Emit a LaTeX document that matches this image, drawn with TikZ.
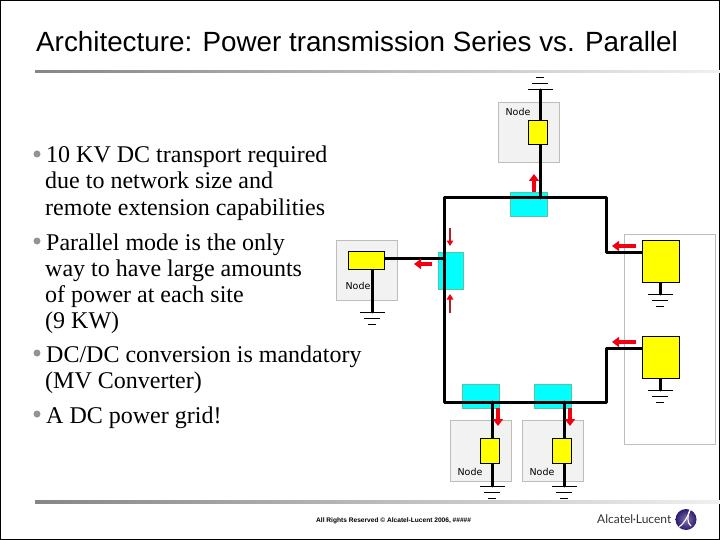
\documentclass[tikz,border=0pt]{standalone}
\usepackage{fontspec}
\usetikzlibrary{arrows.meta}
\setmainfont{Liberation Serif}
\newfontfamily\titlefont{Liberation Sans}
\newfontfamily\labelfont{DejaVu Sans}
\newfontfamily\logofont{Lato}

\definecolor{boxgray}{HTML}{F2F2F2}
\definecolor{boxedge}{HTML}{BEBEB6}
\definecolor{feedcyan}{HTML}{00FFFF}
\definecolor{cyanedge}{HTML}{5CC49C}
\definecolor{convyellow}{HTML}{FFFF00}
\definecolor{flowred}{HTML}{F00010}
\definecolor{thinred}{HTML}{B02028}
\definecolor{logoviolet}{HTML}{2C1A70}

\tikzset{
    sitebox/.style={draw=boxedge,line width=0.8pt,inner sep=0pt},
    feeder/.style={draw=cyanedge,fill=feedcyan,line width=0.8pt,inner sep=0pt},
    conv/.style={draw=black,fill=convyellow,line width=0.9pt,inner sep=0pt},
    wire/.style={black,line width=3pt,line cap=round,line join=round},
    flow/.style={flowred,line width=4.5pt,-{Triangle[length=7pt,width=10pt]}},
    thinflow/.style={thinred,line width=1.6pt,-{Triangle[length=5.5pt,width=6.5pt,color=flowred]}},
    sitelabel/.style={font=\labelfont\fontsize{9.5}{11}\selectfont,inner sep=0pt},
    textline/.style={anchor=base west,inner sep=0pt,font=\fontsize{24}{26}\selectfont},
    bulletdot/.style={circle,fill=gray!85,minimum size=7pt,inner sep=0pt},
    earth/.pic={
        \draw[line width=1pt] (-12.5,0) -- (12.5,0);
        \draw[line width=1pt] (-8,6) -- (8,6);
        \draw[line width=1pt] (-4,12) -- (4,12);
    }
}

\begin{document}
\begin{tikzpicture}[x=1pt,y=-1pt]
        \useasboundingbox (0,0) rectangle (720,540);
        \draw[black,line width=1pt] (0.5,0.5) rectangle (719.5,539.5);

        % Title and rules
        \node[anchor=base west,inner sep=0pt,font=\titlefont\fontsize{27.8}{30}\selectfont] (title) at (36,52) {Architecture: Power transmission Series vs. Parallel};
        \shade[left color=gray!95,right color=gray!12] (35,70.5) rectangle (720,72.5);
        \shade[left color=gray!95,right color=gray!12] (35,500) rectangle (720,503);

        % Bullets
        \node[bulletdot] (b1) at (37,154) {};
        \node[bulletdot] (b2) at (37,241) {};
        \node[bulletdot] (b3) at (37,353) {};
        \node[bulletdot] (b4) at (37,414) {};
        \node[textline] (l1) at (46,163) {10 KV DC transport required};
        \node[textline] (l2) at (45,189) {due to network size and};
        \node[textline] (l3) at (45,215) {remote extension capabilities};
        \node[textline] (l4) at (46,250) {Parallel mode is the only};
        \node[textline] (l5) at (45,276) {way to have large amounts};
        \node[textline] (l6) at (45,302) {of power at each site};
        \node[textline] (l7) at (45,328) {(9 KW)};
        \node[textline] (l8) at (46,362) {DC/DC conversion is mandatory};
        \node[textline] (l9) at (45,388) {(MV Converter)};
        \node[textline] (l10) at (46,423) {A DC power grid!};

        % Site boxes
        \node[sitebox,fill=boxgray,minimum width=61pt,minimum height=60pt] (siteT) at (528.5,132) {};
        \node[sitebox,fill=boxgray,minimum width=61pt,minimum height=60pt] (siteL) at (366.5,270) {};
        \node[sitebox,fill=boxgray,minimum width=61pt,minimum height=61pt] (siteA) at (480.5,450.5) {};
        \node[sitebox,fill=boxgray,minimum width=61pt,minimum height=61pt] (siteB) at (552.5,450.5) {};
        \node[sitebox,minimum width=91pt,minimum height=210pt] (siteR) at (669.5,339) {};

        % Feeders
        \node[feeder,minimum width=37pt,minimum height=24pt] (feedT) at (528.5,204) {};
        \node[feeder,minimum width=25pt,minimum height=37pt] (feedL) at (450.5,270.5) {};
        \node[feeder,minimum width=37pt,minimum height=24pt] (feedA) at (480.5,396) {};
        \node[feeder,minimum width=37pt,minimum height=24pt] (feedB) at (552.5,396) {};

        % Bus corners and tap points
        \coordinate (TL) at (444,198);
        \coordinate (TR) at (606,198);
        \coordinate (R1) at (606,252);
        \coordinate (R2) at (606,348);
        \coordinate (BR) at (606,402);
        \coordinate (BL) at (444,402);
        \coordinate (tapT) at (540,198);
        \coordinate (tapL) at (444,258);
        \coordinate (tapA) at (492,402);
        \coordinate (tapB) at (564,402);

        % Earth points
        \coordinate (gT) at (540,90);
        \coordinate (gL) at (372,312);
        \coordinate (gA) at (492,486);
        \coordinate (gB) at (564,486);
        \coordinate (gR1) at (660,294);
        \coordinate (gR2) at (660,390);

        % Converters
        \coordinate (cL) at (372,258);
        \coordinate (cR1) at (660,252);
        \coordinate (cR2) at (660,348);

        \draw[wire] (cR1) -- (R1) -- (TR) -- (TL) -- (BL) -- (BR) -- (R2) -- (cR2);
        \draw[wire] (tapT) -- (gT);
        \draw[wire] (tapL) -- (cL) -- (gL);
        \draw[wire] (tapA) -- (gA);
        \draw[wire] (tapB) -- (gB);
        \draw[wire] (cR1) -- (gR1);
        \draw[wire] (cR2) -- (gR2);

        \node[conv,minimum width=19pt,minimum height=24pt] (convT) at (537.5,132) {};
        \node[conv,minimum width=36pt,minimum height=18pt] (convL) at (366,260) {};
        \node[conv,minimum width=19pt,minimum height=25pt] (convA) at (489.5,450.5) {};
        \node[conv,minimum width=19pt,minimum height=25pt] (convB) at (561.5,450.5) {};
        \node[conv,minimum width=37pt,minimum height=42pt] (convR1) at (660.5,261) {};
        \node[conv,minimum width=37pt,minimum height=42pt] (convR2) at (660.5,357) {};

        \pic[yscale=-1] at (gT) {earth};
        \pic at (gL) {earth};
        \pic at (gA) {earth};
        \pic at (gB) {earth};
        \pic at (gR1) {earth};
        \pic at (gR2) {earth};

        % Current arrows
        \coordinate (aT1) at (534,192);  \coordinate (aT2) at (534,174);
        \coordinate (aL1) at (432,264);  \coordinate (aL2) at (414,264);
        \coordinate (aR1) at (636,246);  \coordinate (aR2) at (612,246);
        \coordinate (aS1) at (636,342);  \coordinate (aS2) at (612,342);
        \coordinate (aA1) at (498,408);  \coordinate (aA2) at (498,426);
        \coordinate (aB1) at (570,408);  \coordinate (aB2) at (570,426);
        \coordinate (aU1) at (450,228);  \coordinate (aU2) at (450,246);
        \coordinate (aD1) at (450,313);  \coordinate (aD2) at (450,294);
        \draw[flow] (aT1) -- (aT2);
        \draw[flow] (aL1) -- (aL2);
        \draw[flow] (aR1) -- (aR2);
        \draw[flow] (aS1) -- (aS2);
        \draw[flow] (aA1) -- (aA2);
        \draw[flow] (aB1) -- (aB2);
        \draw[thinflow] (aU1) -- (aU2);
        \draw[thinflow] (aD1) -- (aD2);

        % Site labels
        \node[sitelabel] (nT) at (518,112) {Node};
        \node[sitelabel] (nL) at (358,285.5) {Node};
        \node[sitelabel] (nA) at (470,472) {Node};
        \node[sitelabel] (nB) at (542,472) {Node};

        % Footer and logo
        \node[anchor=base west,inner sep=0pt,font=\titlefont\bfseries\fontsize{6.6}{8}\selectfont] (foot) at (316,522) {All Rights Reserved © Alcatel-Lucent 2006, \#\#\#\#\#};
        \node[anchor=base west,inner sep=0pt,text=black!80,font=\logofont\fontsize{12}{14}\selectfont] (logotext) at (597,523) {Alcatel·Lucent};
        \shade[inner color=logoviolet!60!white,outer color=logoviolet] (686,519.5) circle (10.5);
        \draw[white,line width=1.1pt,line cap=round] (679,527) .. controls (684,524) and (688,516) .. (690,510);
        \draw[white,line width=1.1pt,line cap=round] (690,510) .. controls (687,516) and (687,523) .. (691,526);

    \end{tikzpicture}
\end{document}
